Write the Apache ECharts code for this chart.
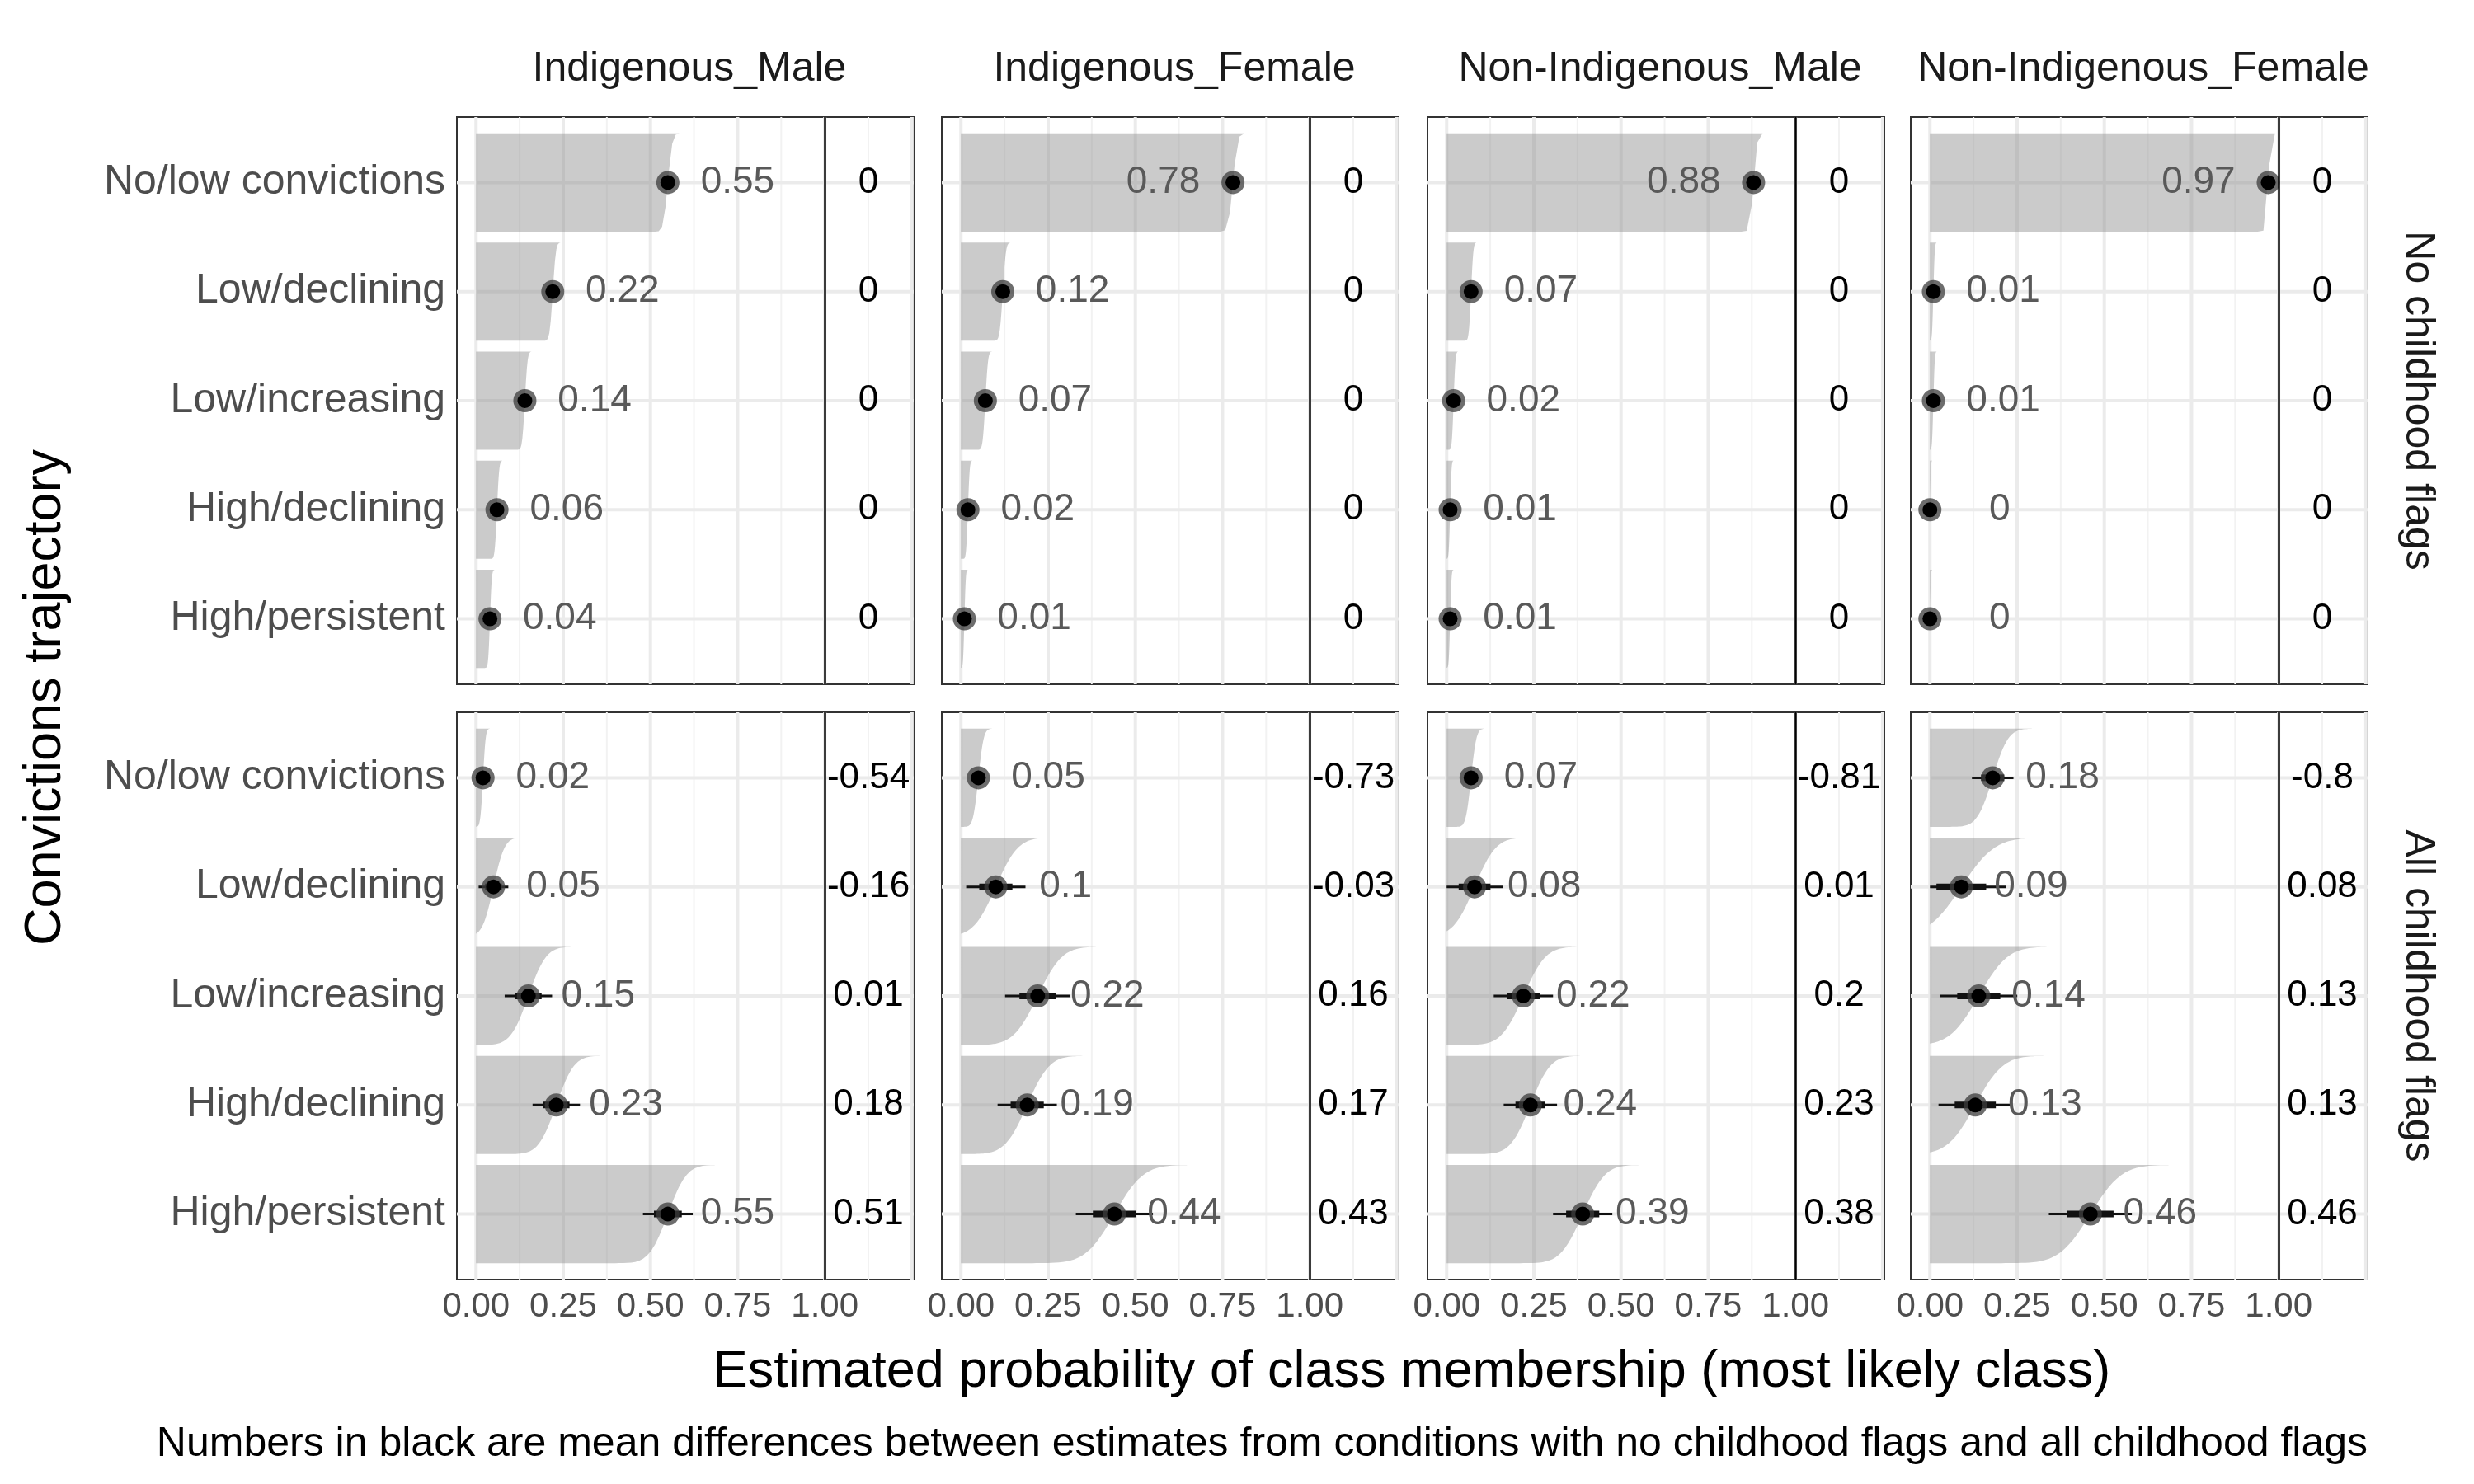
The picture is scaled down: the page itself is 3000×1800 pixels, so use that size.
<!DOCTYPE html>
<html>
<head>
<meta charset="utf-8">
<script src="https://cdn.jsdelivr.net/npm/echarts@6/dist/echarts.min.js"></script>
<style>html,body{margin:0;padding:0;background:#fff}#chart{width:3000px;height:1800px}</style>
</head>
<body>
<div id="chart"></div>
<script>
// ---------- data ----------
var categories = ['No/low convictions', 'Low/declining', 'Low/increasing', 'High/declining', 'High/persistent'];
var facets = ['Indigenous_Male', 'Indigenous_Female', 'Non-Indigenous_Male', 'Non-Indigenous_Female'];
var rowNames = ['No childhood flags', 'All childhood flags'];

// estimates, no childhood flags (per facet, per category)
var meanNo = [
    [0.55, 0.22, 0.14, 0.06, 0.04],
    [0.78, 0.12, 0.07, 0.02, 0.01],
    [0.88, 0.07, 0.02, 0.01, 0.01],
    [0.97, 0.01, 0.01, 0, 0]
];
var sdNo = [
    [0.010, 0.007, 0.006, 0.005, 0.004],
    [0.010, 0.007, 0.006, 0.004, 0.003],
    [0.008, 0.005, 0.004, 0.003, 0.003],
    [0.006, 0.003, 0.003, 0.002, 0.002]
];
// estimates, all childhood flags
var meanAll = [
    [0.02, 0.05, 0.15, 0.23, 0.55],
    [0.05, 0.10, 0.22, 0.19, 0.44],
    [0.07, 0.08, 0.22, 0.24, 0.39],
    [0.18, 0.09, 0.14, 0.13, 0.46]
];
var sdAll = [
    [0.006, 0.025, 0.040, 0.040, 0.042],
    [0.012, 0.050, 0.055, 0.050, 0.065],
    [0.012, 0.048, 0.050, 0.045, 0.050],
    [0.035, 0.075, 0.065, 0.062, 0.070]
];
// mean differences (black numbers)
var diffNo = [
    [0, 0, 0, 0, 0], [0, 0, 0, 0, 0], [0, 0, 0, 0, 0], [0, 0, 0, 0, 0]
];
var diffAll = [
    [-0.54, -0.16, 0.01, 0.18, 0.51],
    [-0.73, -0.03, 0.16, 0.17, 0.43],
    [-0.81, 0.01, 0.2, 0.23, 0.38],
    [-0.8, 0.08, 0.13, 0.13, 0.46]
];
var xTicks = [0, 0.25, 0.5, 0.75, 1];
var xGrid = [0, 0.125, 0.25, 0.375, 0.5, 0.625, 0.75, 0.875, 1, 1.125, 1.25];

// ---------- helpers ----------
function erf(x) {
    var s = x < 0 ? -1 : 1; x = Math.abs(x);
    var t = 1 / (1 + 0.3275911 * x);
    var y = 1 - (((((1.061405429 * t - 1.453152027) * t) + 1.421413741) * t - 0.284496736) * t + 0.254829592) * t * Math.exp(-x * x);
    return s * y;
}
function ccdf(x, m, s) { return 0.5 * (1 - erf((x - m) / (s * Math.SQRT2))); }

var FONT = 'Liberation Sans, Arial, sans-serif';
var lefts = [554, 1142, 1731, 2317];
var tops = [142, 864];
var W = 554, H = 688;

var chart = echarts.init(document.getElementById('chart'));
var grids = [], xAxes = [], yAxes = [], series = [], titles = [], graphics = [];

for (var r = 0; r < 2; r++) {
    for (var c = 0; c < 4; c++) {
        var gi = r * 4 + c;
        var means = r === 0 ? meanNo[c] : meanAll[c];
        var sds = r === 0 ? sdNo[c] : sdAll[c];
        var diffs = r === 0 ? diffNo[c] : diffAll[c];
        grids.push({left: lefts[c], top: tops[r], width: W, height: H, show: true,
            borderColor: '#333', borderWidth: 2, backgroundColor: '#fff'});
        xAxes.push({type: 'value', gridIndex: gi, min: -0.055, max: 1.255,
            axisLine: {show: false}, splitLine: {show: false},
            axisTick: {show: r === 1, customValues: xTicks, length: 10, lineStyle: {color: '#333', width: 2}},
            axisLabel: {show: r === 1, customValues: xTicks, margin: 12, fontSize: 42, color: '#4d4d4d', fontFamily: FONT,
                formatter: function (v) { return v.toFixed(2); }}});
        yAxes.push({type: 'value', gridIndex: gi, min: -0.6, max: 4.6, inverse: true,
            axisLine: {show: false}, splitLine: {show: false},
            axisTick: {show: c === 0, customValues: [0, 1, 2, 3, 4], length: 10, lineStyle: {color: '#333', width: 2}},
            axisLabel: {show: c === 0, customValues: [0, 1, 2, 3, 4], margin: 14, fontSize: 50, color: '#4d4d4d', fontFamily: FONT,
                formatter: function (v) { return categories[Math.round(v)]; }}});

        // grid lines
        series.push({type: 'custom', xAxisIndex: gi, yAxisIndex: gi, silent: true, z: 1,
            data: xGrid.map(function (v, i) { return [v, i % 2]; }),
            renderItem: function (params, api) {
                var p = api.coord([api.value(0), -0.6]), q = api.coord([api.value(0), 4.6]);
                return {type: 'line', shape: {x1: p[0], y1: p[1], x2: q[0], y2: q[1]},
                    style: {stroke: api.value(1) ? '#f2f2f2' : '#ebebeb', lineWidth: api.value(1) ? 2 : 4}};
            }});
        series.push({type: 'custom', xAxisIndex: gi, yAxisIndex: gi, silent: true, z: 1,
            data: categories.map(function (n, i) { return [i]; }),
            renderItem: function (params, api) {
                var p = api.coord([-0.055, api.value(0)]), q = api.coord([1.255, api.value(0)]);
                return {type: 'line', shape: {x1: p[0], y1: p[1], x2: q[0], y2: q[1]},
                    style: {stroke: '#ebebeb', lineWidth: 4}};
            }});

        var items = means.map(function (m, i) { return [m, i, sds[i], diffs[i]]; });
        // ccdf slabs
        series.push({type: 'custom', xAxisIndex: gi, yAxisIndex: gi, silent: true, z: 2, data: items,
            renderItem: function (params, api) {
                var m = api.value(0), i = api.value(1), s = api.value(2);
                var h = api.size([0, 0.9])[1];
                var yTop = api.coord([0, i])[1] - h / 2;
                var xEnd = m + 3.2 * s, n = 60, top = [], bot = [];
                for (var k = 0; k <= n; k++) {
                    var x = xEnd * k / n;
                    var px = api.coord([x, i])[0];
                    top.push([px, yTop]);
                    bot.push([px, yTop + h * ccdf(x, m, s)]);
                }
                return {type: 'polygon', shape: {points: top.concat(bot.reverse())},
                    style: {fill: 'rgba(140,140,140,0.45)'}};
            }});
        // intervals and points
        series.push({type: 'custom', xAxisIndex: gi, yAxisIndex: gi, silent: true, z: 3, data: items,
            renderItem: function (params, api) {
                var m = api.value(0), i = api.value(1), s = api.value(2);
                var a = api.coord([Math.max(0, m - 1.7 * s), i]), b = api.coord([m + 1.7 * s, i]);
                var a2 = api.coord([Math.max(0, m - 0.95 * s), i]), b2 = api.coord([m + 0.95 * s, i]);
                var p = api.coord([m, i]);
                return {type: 'group', children: [
                    {type: 'line', shape: {x1: a[0], y1: a[1], x2: b[0], y2: b[1]}, style: {stroke: '#111', lineWidth: 3}},
                    {type: 'line', shape: {x1: a2[0], y1: a2[1], x2: b2[0], y2: b2[1]}, style: {stroke: '#111', lineWidth: 8}},
                    {type: 'circle', shape: {cx: p[0], cy: p[1], r: 14}, style: {fill: 'rgba(60,60,60,0.75)'}},
                    {type: 'circle', shape: {cx: p[0], cy: p[1], r: 9}, style: {fill: '#000'}}
                ]};
            },
            markLine: {silent: true, symbol: 'none', label: {show: false},
                lineStyle: {color: '#000', width: 2.5, type: 'solid'}, data: [{xAxis: 1}]}});
        // value labels and difference labels
        series.push({type: 'custom', xAxisIndex: gi, yAxisIndex: gi, silent: true, z: 4, data: items,
            renderItem: function (params, api) {
                var m = api.value(0), i = api.value(1), d = api.value(3);
                var p = api.coord([m > 0.7 ? m - 0.2 : m + 0.2, i]);
                var q = api.coord([1.125, i]);
                return {type: 'group', children: [
                    {type: 'text', x: p[0], y: p[1], style: {text: String(m), fill: '#595959', fontSize: 46,
                        fontFamily: FONT, align: 'center', verticalAlign: 'middle'}},
                    {type: 'text', x: q[0], y: q[1], style: {text: String(d), fill: '#000', fontSize: 44,
                        fontFamily: FONT, align: 'center', verticalAlign: 'middle'}}
                ]};
            }});
    }
}

facets.forEach(function (f, c) {
    titles.push({text: f, left: lefts[c] + W / 2, top: 54, textAlign: 'center',
        textStyle: {fontSize: 50, fontWeight: 'normal', color: '#1a1a1a', fontFamily: FONT}});
});
rowNames.forEach(function (n, r) {
    graphics.push({type: 'text', x: 2932, y: tops[r] + H / 2, rotation: -Math.PI / 2,
        style: {text: n, fontSize: 50, fill: '#1a1a1a', fontFamily: FONT, align: 'center', verticalAlign: 'middle'}});
});
graphics.push({type: 'text', x: 56, y: 846, rotation: Math.PI / 2,
    style: {text: 'Convictions trajectory', fontSize: 63, fill: '#000', fontFamily: FONT, align: 'center', verticalAlign: 'middle'}});
graphics.push({type: 'text', x: 1712, y: 1665,
    style: {text: 'Estimated probability of class membership (most likely class)', fontSize: 63, fill: '#000', fontFamily: FONT, align: 'center', verticalAlign: 'middle'}});
graphics.push({type: 'text', x: 2871, y: 1752,
    style: {text: 'Numbers in black are mean differences between estimates from conditions with no childhood flags and all childhood flags', fontSize: 50, fill: '#000', fontFamily: FONT, align: 'right', verticalAlign: 'middle'}});

chart.setOption({
    backgroundColor: '#fff',
    animation: false,
    title: titles,
    grid: grids,
    xAxis: xAxes,
    yAxis: yAxes,
    series: series,
    graphic: graphics
});
</script>
</body>
</html>
